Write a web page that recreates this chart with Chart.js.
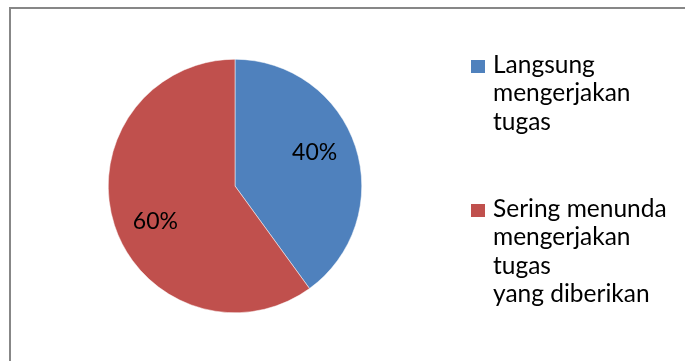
<!DOCTYPE html>
<html>
<head>
<meta charset="utf-8">
<script src="https://cdn.jsdelivr.net/npm/chart.js@4.4.1/dist/chart.umd.min.js"></script>
<style>
  html, body { margin: 0; padding: 0; background: #fff; }
  #wrap { position: relative; width: 685px; height: 361px; }
</style>
</head>
<body>
<div id="wrap"><canvas id="c" width="685" height="361"></canvas></div>
<script>
const categories = [
  ["Langsung", "mengerjakan", "tugas"],
  ["Sering menunda", "mengerjakan", "tugas", "yang diberikan"]
];
const values = [40, 60];
const valueLabels = ["40%", "60%"];
const colors = ["#4F81BD", "#C0504D"];

const FONT = "Lato, 'Open Sans', sans-serif";

const framePlugin = {
  id: 'frame',
  beforeDraw(chart) {
    const ctx = chart.ctx;
    ctx.save();
    ctx.fillStyle = '#fff';
    ctx.fillRect(0, 0, chart.width, chart.height);
    ctx.strokeStyle = '#878787';
    ctx.lineWidth = 2;
    ctx.beginPath();
    ctx.moveTo(10, chart.height);
    ctx.lineTo(10, 8);
    ctx.lineTo(chart.width, 8);
    ctx.stroke();
    ctx.restore();
  }
};

const labelPlugin = {
  id: 'sliceLabels',
  afterDatasetsDraw(chart) {
    const ctx = chart.ctx;
    const meta = chart.getDatasetMeta(0);
    ctx.save();
    ctx.font = "23px " + FONT;
    ctx.fillStyle = '#000';
    ctx.textAlign = 'center';
    ctx.textBaseline = 'alphabetic';
    meta.data.forEach((arc, i) => {
      const p = arc.getProps(['x', 'y', 'startAngle', 'endAngle', 'outerRadius'], true);
      const mid = (p.startAngle + p.endAngle) / 2 - 5.5 * Math.PI / 180;
      const r = p.outerRadius * 0.685;
      ctx.fillText(valueLabels[i], p.x + Math.cos(mid) * r, p.y + Math.sin(mid) * r + 8.5);
    });
    ctx.restore();
  }
};

const legendPlugin = {
  id: 'sideLegend',
  afterDraw(chart) {
    const ctx = chart.ctx;
    const labels = chart.data.labels;
    const bg = chart.data.datasets[0].backgroundColor;
    const tops = [73, 217];
    const lineH = 28.4;
    ctx.save();
    ctx.font = "24.5px " + FONT;
    ctx.textAlign = 'left';
    ctx.textBaseline = 'alphabetic';
    labels.forEach((lines, i) => {
      ctx.fillStyle = bg[i];
      ctx.fillRect(471, tops[i] - 13, 14, 13);
      ctx.fillStyle = '#000';
      lines.forEach((t, j) => ctx.fillText(t, 493, tops[i] + j * lineH));
    });
    ctx.restore();
  }
};

new Chart(document.getElementById('c'), {
  type: 'pie',
  data: {
    labels: categories,
    datasets: [{
      data: values,
      backgroundColor: colors,
      borderColor: '#ffffff',
      borderWidth: 0.5
    }]
  },
  options: {
    responsive: false,
    animation: false,
    events: [],
    layout: { padding: { top: 59, bottom: 48, left: 108, right: 323 } },
    plugins: {
      legend: { display: false },
      tooltip: { enabled: false }
    }
  },
  plugins: [framePlugin, labelPlugin, legendPlugin]
});
</script>
</body>
</html>
